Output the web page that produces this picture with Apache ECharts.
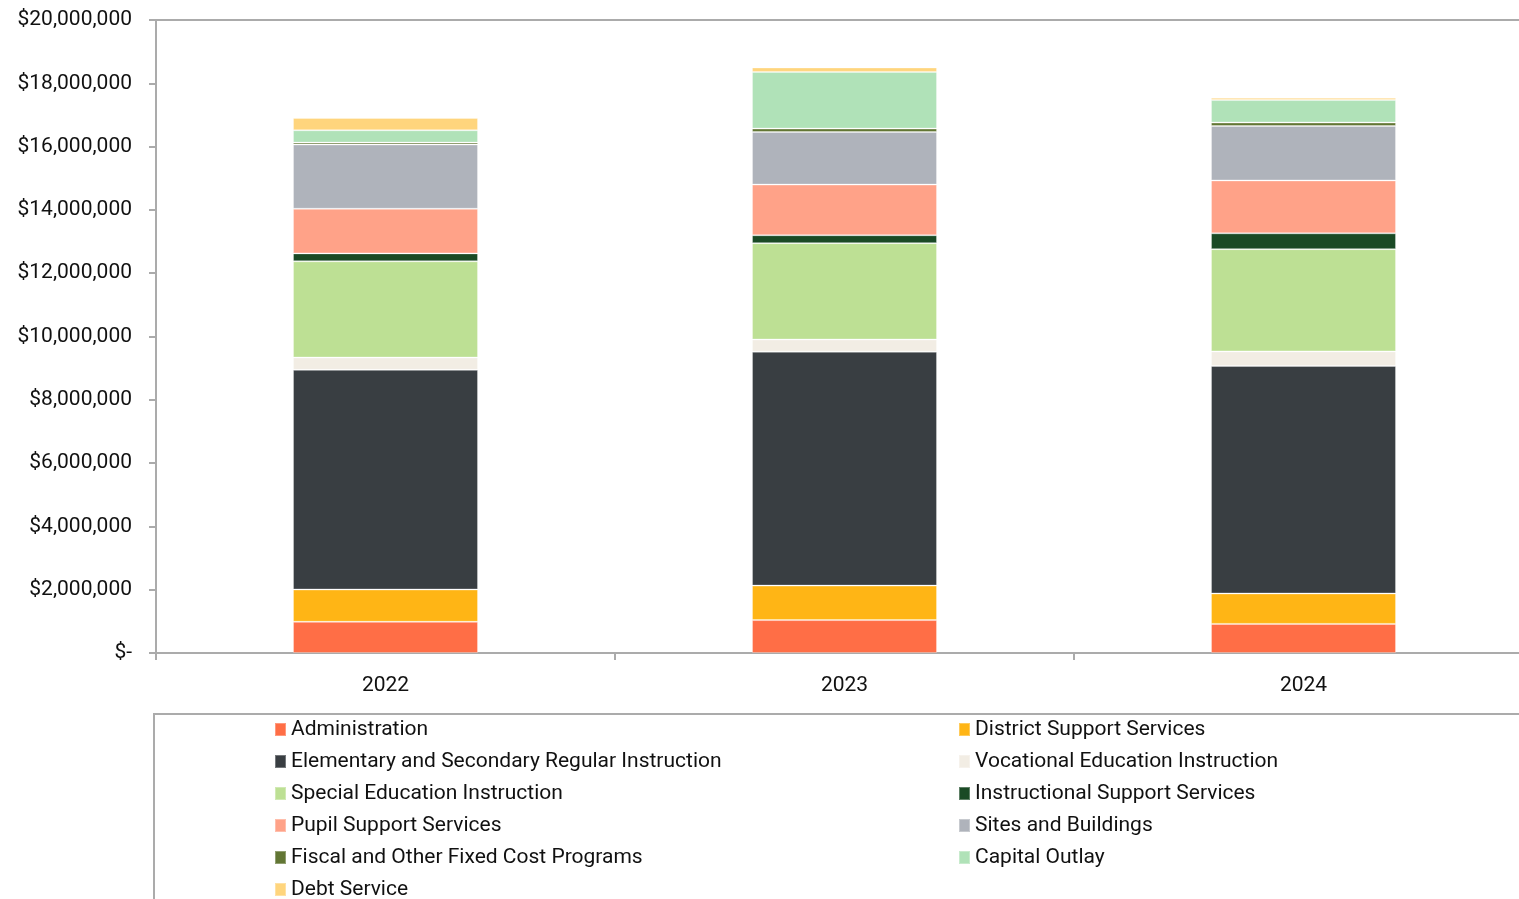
<!DOCTYPE html>
<html>
<head>
<meta charset="utf-8">
<title>Expenditures by Function, 2022–2024</title>
<script src="https://cdn.jsdelivr.net/npm/echarts@6/dist/echarts.min.js"></script>
<style>
  html, body { margin: 0; padding: 0; background: #ffffff; overflow: hidden; }
  #chart { width: 1533px; height: 940px; }
</style>
</head>
<body>
<div id="chart"></div>
<script>
// Fiscal years on the category axis
const years = ['2022', '2023', '2024'];

// Spending by function, in dollars (stacked bottom to top)
const administration       = [986000, 1040000, 920000];
const districtSupport      = [1020000, 1090000, 960000];
const elemSecondary        = [6940000, 7390000, 7190000];
const vocational           = [390000, 385000, 460000];
const specialEducation     = [3040000, 3045000, 3230000];
const instructionalSupport = [250000, 250000, 500000];
const pupilSupport         = [1410000, 1600000, 1670000];
const sitesBuildings       = [2030000, 1660000, 1720000];
const fiscalFixed          = [60000, 110000, 110000];
const capitalOutlay        = [390000, 1790000, 710000];
const debtService          = [390000, 140000, 70000];

// Value axis ticks
const yTicks = [0, 2000000, 4000000, 6000000, 8000000, 10000000, 12000000, 14000000, 16000000, 18000000, 20000000];

const seriesDefs = [
  { name: 'Administration', data: administration, color: '#FF6E46' },
  { name: 'District Support Services', data: districtSupport, color: '#FFB515' },
  { name: 'Elementary and Secondary Regular Instruction', data: elemSecondary, color: '#393E42' },
  { name: 'Vocational Education Instruction', data: vocational, color: '#F2EDE4' },
  { name: 'Special Education Instruction', data: specialEducation, color: '#BDE094' },
  { name: 'Instructional Support Services', data: instructionalSupport, color: '#1A4A25' },
  { name: 'Pupil Support Services', data: pupilSupport, color: '#FFA288' },
  { name: 'Sites and Buildings', data: sitesBuildings, color: '#AFB3BB' },
  { name: 'Fiscal and Other Fixed Cost Programs', data: fiscalFixed, color: '#627634' },
  { name: 'Capital Outlay', data: capitalOutlay, color: '#B0E2B8' },
  { name: 'Debt Service', data: debtService, color: '#FFD57D' }
];

const FONT = 'Roboto, "Liberation Sans", sans-serif';
const AXIS_GREY = '#ABABAB';
const TEXT = '#111111';

function money(v) {
  if (v === 0) return '$-';
  return '$' + v.toLocaleString('en-US');
}

// Legend in two columns, filled row by row
const legendText = { fontFamily: FONT, fontSize: 21, color: TEXT, lineHeight: 21 };
const leftNames = seriesDefs.filter((s, i) => i % 2 === 0).map(s => s.name);
const rightNames = seriesDefs.filter((s, i) => i % 2 === 1).map(s => s.name);

const chart = echarts.init(document.getElementById('chart'), null, { renderer: 'canvas' });

chart.setOption({
  animation: false,
  backgroundColor: '#ffffff',
  textStyle: { fontFamily: FONT },
  grid: { left: 156, top: 20, right: 0, height: 633, containLabel: false },
  graphic: [
    {
      type: 'rect',
      shape: { x: 154, y: 714, width: 1400, height: 300 },
      style: { fill: 'none', stroke: AXIS_GREY, lineWidth: 2 },
      silent: true
    }
  ],
  legend: [
    {
      data: leftNames,
      orient: 'vertical',
      left: 269, top: 714,
      itemWidth: 11, itemHeight: 13, itemGap: 11,
      icon: 'rect',
      textStyle: legendText,
      selectedMode: false
    },
    {
      data: rightNames,
      orient: 'vertical',
      left: 953, top: 714,
      itemWidth: 11, itemHeight: 13, itemGap: 11,
      icon: 'rect',
      textStyle: legendText,
      selectedMode: false
    }
  ],
  xAxis: [
    {
      type: 'category',
      data: years,
      position: 'bottom',
      axisLine: { show: true, lineStyle: { color: AXIS_GREY, width: 2 } },
      axisTick: { show: true, length: 7, lineStyle: { color: AXIS_GREY, width: 2 } },
      axisLabel: { fontFamily: FONT, fontSize: 21, color: TEXT, margin: 22 },
      splitLine: { show: false }
    },
    {
      // top border line of the plot area
      type: 'category',
      data: years,
      position: 'top',
      axisLine: { show: true, lineStyle: { color: AXIS_GREY, width: 2 } },
      axisTick: { show: false },
      axisLabel: { show: false },
      splitLine: { show: false }
    }
  ],
  yAxis: {
    type: 'value',
    min: yTicks[0],
    max: yTicks[yTicks.length - 1],
    interval: yTicks[1] - yTicks[0],
    axisLine: { show: true, lineStyle: { color: AXIS_GREY, width: 2 } },
    axisTick: { show: true, length: 7, lineStyle: { color: AXIS_GREY, width: 2 } },
    axisLabel: { fontFamily: FONT, fontSize: 21, color: TEXT, margin: 24, formatter: money },
    splitLine: { show: false }
  },
  series: seriesDefs.map(s => ({
    name: s.name,
    type: 'bar',
    stack: 'total',
    barWidth: 185,
    xAxisIndex: 0,
    data: s.data,
    itemStyle: { color: s.color, borderColor: 'rgba(255,255,255,0.3)', borderWidth: 1 },
    emphasis: { disabled: true }
  }))
});
</script>
</body>
</html>
